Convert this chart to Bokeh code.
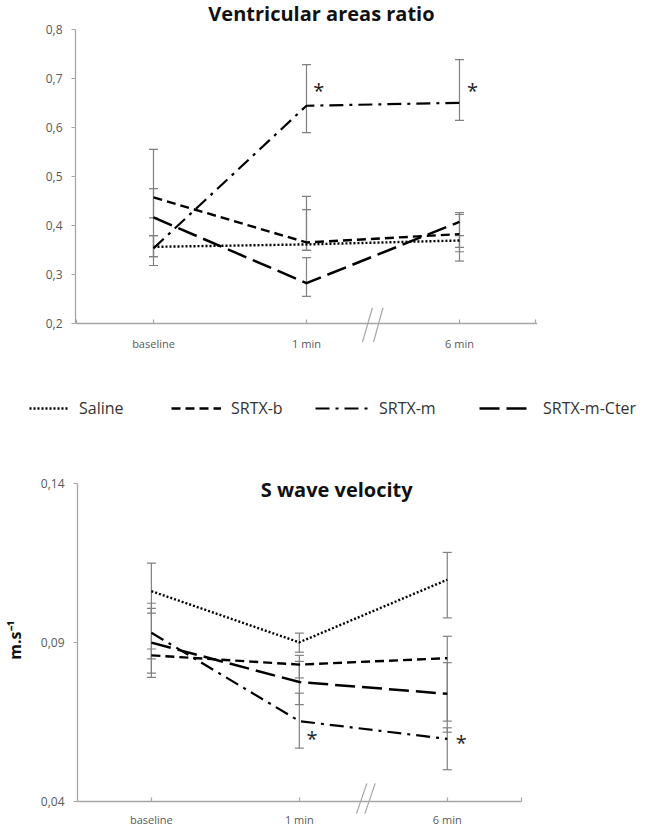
from bokeh.plotting import figure
from bokeh.models import (Range1d, FixedTicker, CustomJSTickFormatter, Whisker, TeeHead,
                          ColumnDataSource, Label, Legend, LegendItem, Arrow)
from bokeh.embed import file_html
from bokeh.resources import INLINE
from bokeh.core.properties import value

FONT = "Open Sans"

# ---------------- data ----------------
categories = ["baseline", "1 min", "6 min"]
series_names = ["Saline", "SRTX-b", "SRTX-m", "SRTX-m-Cter"]

# Ventricular areas ratio
ratio_saline = [0.357, 0.362, 0.370]
ratio_srtx_b = [0.458, 0.366, 0.383]
ratio_srtx_m = [0.354, 0.645, 0.651]
ratio_cter = [0.417, 0.283, 0.408]
ratio_hi_saline = [0.380, 0.433, 0.380]
ratio_lo_saline = [0.337, 0.350, 0.328]
ratio_hi_srtx_b = [0.556, 0.460, 0.423]
ratio_lo_srtx_b = [0.416, 0.350, 0.356]
ratio_hi_srtx_m = [0.380, 0.729, 0.739]
ratio_lo_srtx_m = [0.319, 0.590, 0.615]
ratio_hi_cter = [0.476, 0.335, 0.427]
ratio_lo_cter = [0.337, 0.256, 0.347]
ratio_star_x = [1.08, 2.085]
ratio_star_y = [0.676, 0.676]

# S wave velocity (m.s-1)
vel_saline = [0.1062, 0.0901, 0.1098]
vel_srtx_b = [0.0860, 0.0831, 0.0851]
vel_srtx_m = [0.0931, 0.0653, 0.0597]
vel_cter = [0.0900, 0.0776, 0.0739]
vel_hi_saline = [0.1150, 0.0930, 0.1184]
vel_lo_saline = [0.0993, 0.0870, 0.0978]
vel_hi_srtx_b = [0.0880, 0.0860, 0.0920]
vel_lo_srtx_b = [0.0849, 0.0789, 0.0618]
vel_hi_srtx_m = [0.1024, 0.0741, 0.0632]
vel_lo_srtx_m = [0.0804, 0.0568, 0.0500]
vel_hi_cter = [0.1008, 0.0841, 0.0837]
vel_lo_cter = [0.0791, 0.0705, 0.0653]
vel_star_x = [1.085, 2.095]
vel_star_y = [0.0598, 0.0586]

# ---------------- styles ----------------
STYLES = {
    "Saline": dict(line_dash="2 2", line_width=2.4),
    "SRTX-b": dict(line_dash="9 5", line_width=2.4),
    "SRTX-m": dict(line_dash="14 6 3 6", line_width=2.2),
    "SRTX-m-Cter": dict(line_dash="20 7", line_width=2.5),
}
AXIS_COLOR = "#a6a6a6"
TICK_TEXT = "#595959"
ERR_COLOR = "#808080"
W = 651

xs = list(range(len(categories)))


def make_chart(series, highs, lows, yr, y_axis_at, yticks, digits, height, left, right, xr,
               x_axis_end, star_x, star_y, xlab_standoff):
    p = figure(width=W, height=height, output_backend="svg", toolbar_location=None,
               x_range=Range1d(*xr), y_range=Range1d(*yr),
               min_border_left=left, min_border_right=right,
               min_border_top=0, min_border_bottom=0)
    p.grid.visible = False
    p.outline_line_color = None

    # error bars
    for vals, hi, lo in zip(series, highs, lows):
        src = ColumnDataSource(dict(x=xs, hi=hi, lo=lo))
        w = Whisker(base="x", upper="hi", lower="lo", source=src, dimension="height",
                    line_color=ERR_COLOR, line_width=1.2, level="underlay",
                    upper_head=TeeHead(size=9, line_color=ERR_COLOR, line_width=1.2),
                    lower_head=TeeHead(size=9, line_color=ERR_COLOR, line_width=1.2))
        p.add_layout(w)

    for name, vals in zip(series_names, series):
        p.line(xs, vals, line_color="black", line_cap="butt", **STYLES[name])

    p.text(x=star_x, y=star_y, text=["*"] * len(star_x), text_font=value(FONT),
           text_font_size="20px", text_align="center", text_baseline="middle",
           text_color="#222222")

    # x axis (category axis drawn at the bottom value of the y scale)
    ends = [-0.5, len(xs) - 0.5]
    p.xaxis.ticker = FixedTicker(ticks=[ends[0]] + xs + [ends[1]])
    overrides = {ends[0]: "", ends[1]: ""}
    overrides.update({i: c for i, c in zip(xs, categories)})
    p.xaxis.major_label_overrides = overrides
    p.xaxis.fixed_location = y_axis_at
    p.xaxis.bounds = (xr[0], x_axis_end)
    p.xaxis.major_tick_in = 4
    p.xaxis.major_tick_out = 0
    p.xaxis.minor_tick_line_color = None
    p.xaxis.major_label_standoff = xlab_standoff
    # y axis
    p.yaxis.ticker = FixedTicker(ticks=yticks)
    p.yaxis.bounds = (yticks[0], yticks[-1])
    p.yaxis.formatter = CustomJSTickFormatter(
        code="return tick.toFixed(%d).replace('.', ',');" % digits)
    p.yaxis.major_tick_in = 0
    p.yaxis.major_tick_out = 4
    p.yaxis.minor_tick_line_color = None
    p.yaxis.major_label_standoff = 9
    for ax in (p.xaxis[0], p.yaxis[0]):
        ax.axis_line_color = AXIS_COLOR
        ax.axis_line_width = 1.3
        ax.major_tick_line_color = AXIS_COLOR
        ax.major_tick_line_width = 1.2
        ax.major_label_text_font = FONT
        ax.major_label_text_color = TICK_TEXT
    p.xaxis.major_label_text_font_size = "11px"
    p.yaxis.major_label_text_font_size = "12px"
    return p


def break_marks(p, marks):
    for xa, ya, xb, yb in marks:
        p.add_layout(Arrow(end=None, x_start=xa, y_start=ya, x_end=xb, y_end=yb,
                           line_color=AXIS_COLOR, line_width=1.2))


def chart_title(p, text, x, y):
    p.add_layout(Label(x=x, y=y, text=text, text_align="center", text_baseline="middle",
                       text_font=FONT, text_font_size="20px", text_font_style="bold",
                       text_color="#111111"))


# ---------------- top chart ----------------
p1 = make_chart([ratio_saline, ratio_srtx_b, ratio_srtx_m, ratio_cter],
                [ratio_hi_saline, ratio_hi_srtx_b, ratio_hi_srtx_m, ratio_hi_cter],
                [ratio_lo_saline, ratio_lo_srtx_b, ratio_lo_srtx_m, ratio_lo_cter],
                (0.1414, 0.8598), 0.2, [0.2, 0.3, 0.4, 0.5, 0.6, 0.7, 0.8], 1, 352, 75, 114,
                (-0.5098, 2.51), 2.51, ratio_star_x, ratio_star_y, 12)
chart_title(p1, "Ventricular areas ratio", 1.098, 0.8333)
break_marks(p1, [(1.366, 0.1625, 1.431, 0.2327), (1.438, 0.1625, 1.500, 0.2327)])

# ---------------- legend ----------------
lg = figure(width=W, height=100, output_backend="svg", toolbar_location=None,
            x_range=Range1d(0, W), y_range=Range1d(0, 1), x_axis_type=None, y_axis_type=None,
            min_border_left=0, min_border_right=0, min_border_top=0, min_border_bottom=0)
lg.grid.visible = False
lg.outline_line_color = None
legend_x = [29, 171, 315, 479]          # x where each legend sample starts
legend_w = [40, 50, 54, 54]
for name, lx, gw in zip(series_names, legend_x, legend_w):
    r = lg.line([-10, -9], [-10, -10], line_color="black", line_cap="butt", **STYLES[name])
    lg.add_layout(Legend(items=[LegendItem(label=name, renderers=[r])],
                         location=(lx, 33), orientation="horizontal",
                         padding=0, margin=0, spacing=0, glyph_width=gw, glyph_height=20,
                         label_standoff=10, label_text_font=FONT, label_text_font_size="16px",
                         label_text_color="#333333", border_line_color=None,
                         background_fill_alpha=0))

# ---------------- bottom chart ----------------
p2 = make_chart([vel_saline, vel_srtx_b, vel_srtx_m, vel_cter],
                [vel_hi_saline, vel_hi_srtx_b, vel_hi_srtx_m, vel_hi_cter],
                [vel_lo_saline, vel_lo_srtx_b, vel_lo_srtx_m, vel_lo_cter],
                (0.03182, 0.14985), 0.04, [0.04, 0.09, 0.14], 2, 375, 72, 114,
                (-0.4995, 2.61), 2.5, vel_star_x, vel_star_y, 10)
p2.yaxis.axis_label = "m.s⁻¹"
p2.yaxis.axis_label_text_font = FONT
p2.yaxis.axis_label_text_font_size = "16px"
p2.yaxis.axis_label_text_font_style = "bold"
p2.yaxis.axis_label_text_color = "#111111"
p2.yaxis.axis_label_standoff = 12
chart_title(p2, "S wave velocity", 1.2525, 0.1382)
break_marks(p2, [(1.386, 0.0362, 1.457, 0.0457), (1.443, 0.0362, 1.513, 0.0457)])

open("out.html", "w").write(file_html([p1, lg, p2], INLINE))
